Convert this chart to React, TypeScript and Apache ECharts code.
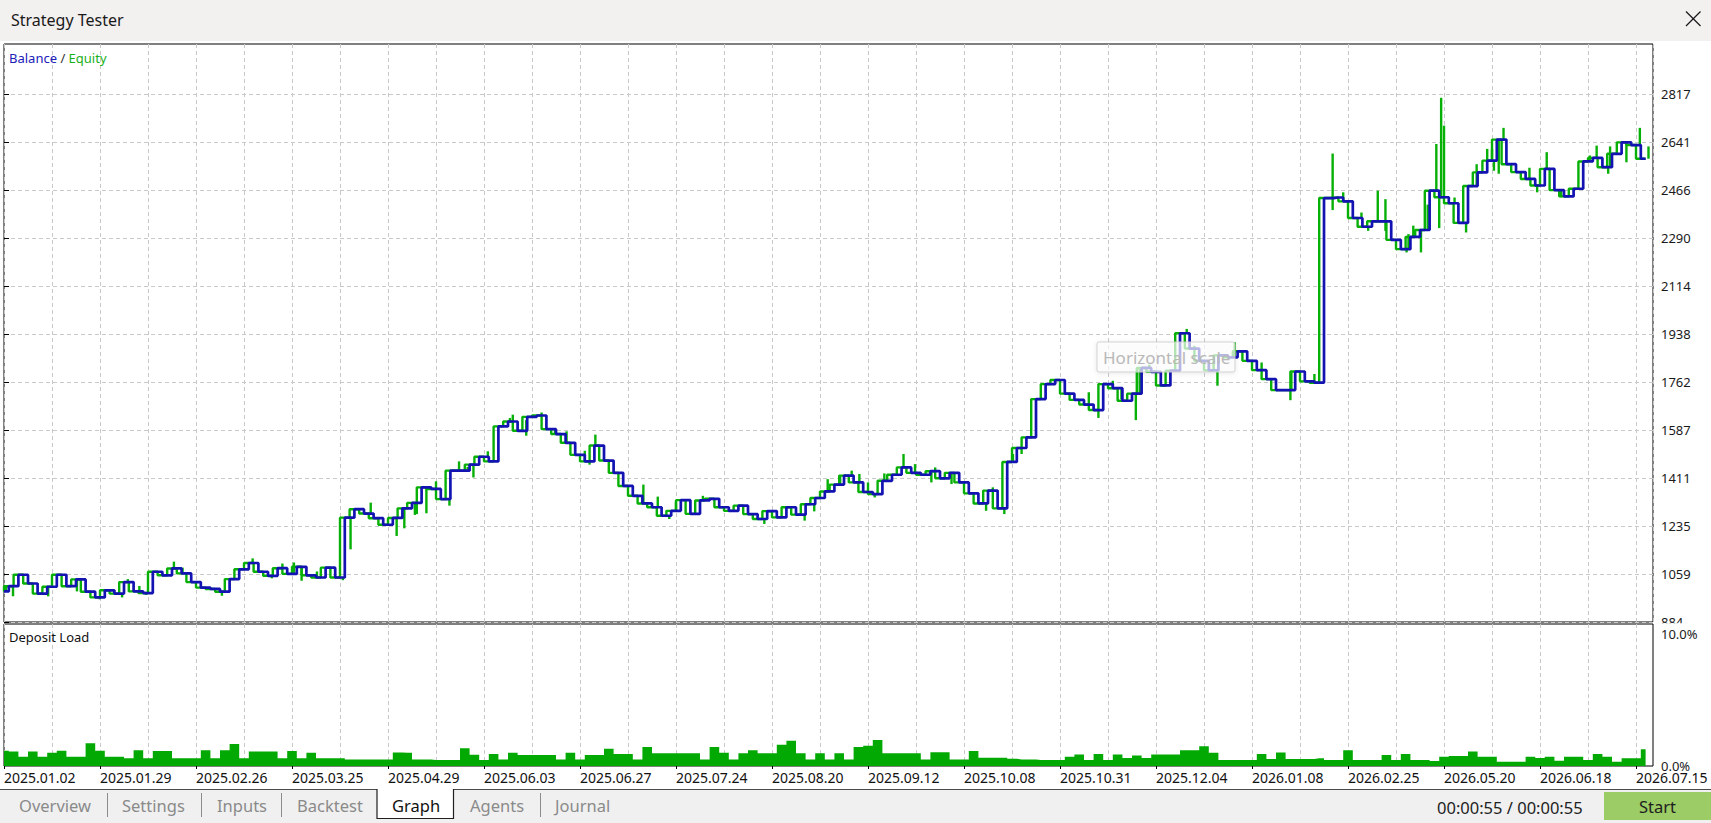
import React, { useEffect, useRef } from 'react';
import * as echarts from 'echarts';

const FONT = '"Noto Sans", "Open Sans", "DejaVu Sans", sans-serif';

// x axis: trade index (1 unit = one sample step), labels every 10 units
const xTickValues = [0, 10, 20, 30, 40, 50, 60, 70, 80, 90, 100, 110, 120, 130, 140, 150, 160, 170];
const xTickLabels = [
  '2025.01.02', '2025.01.29', '2025.02.26', '2025.03.25', '2025.04.29', '2025.06.03',
  '2025.06.27', '2025.07.24', '2025.08.20', '2025.09.12', '2025.10.08', '2025.10.31',
  '2025.12.04', '2026.01.08', '2026.02.25', '2026.05.20', '2026.06.18', '2026.07.15',
];
const xMax = 171.77;

// y axis ticks of the balance/equity panel
const yTickValues = [884, 1059.7, 1235.5, 1411.2, 1586.9, 1762.7, 1938.4, 2114.1, 2289.8, 2465.6, 2641.3, 2817];
const yTickLabels = ['884', '1059', '1235', '1411', '1587', '1762', '1938', '2114', '2290', '2466', '2641', '2817'];

// balance per trade index
const balance = [
  996, 1015, 1057, 1025, 988, 1013, 1057, 1015, 1040, 995,
  974, 1000, 988, 1030, 996, 990, 1068, 1055, 1080, 1062,
  1030, 1010, 1005, 995, 1041, 1077, 1100, 1068, 1053, 1081,
  1060, 1086, 1055, 1047, 1083, 1047, 1266, 1297, 1281, 1264,
  1240, 1265, 1300, 1320, 1377, 1371, 1334, 1438, 1438, 1460,
  1489, 1472, 1600, 1618, 1584, 1635, 1640, 1590, 1572, 1540,
  1496, 1472, 1530, 1475, 1430, 1382, 1346, 1318, 1304, 1273,
  1291, 1330, 1280, 1329, 1335, 1304, 1291, 1310, 1279, 1261,
  1290, 1267, 1304, 1277, 1315, 1338, 1362, 1387, 1420, 1395,
  1360, 1352, 1401, 1423, 1450, 1430, 1423, 1436, 1410, 1430,
  1395, 1355, 1318, 1365, 1300, 1470, 1521, 1560, 1700, 1755,
  1770, 1720, 1697, 1680, 1660, 1755, 1740, 1694, 1720, 1814,
  1800, 1750, 1804, 1941, 1885, 1840, 1805, 1860, 1853, 1875,
  1840, 1806, 1773, 1733, 1733, 1801, 1765, 1760, 2436, 2438,
  2424, 2363, 2331, 2351, 2351, 2283, 2249, 2294, 2319, 2463,
  2439, 2417, 2345, 2480, 2530, 2573, 2650, 2560, 2531, 2506,
  2482, 2543, 2465, 2442, 2470, 2570, 2583, 2549, 2598, 2640,
  2630, 2580,
];

// equity extremes (trade position, equity value)
const equityIdx = [
  0.2, 0.94, 4.6, 7.6, 9.97, 12.3, 12.9, 14.1, 14.8, 17.7, 18.6, 22.7, 25.9, 27.9, 29.0, 30.2, 31.0,
  32.6, 35.3, 36.1, 38.2, 40.9, 41.7, 42.8,
  43.0, 44.0, 45.0, 46.4, 47.4, 48.3, 48.9, 50.4, 52.7, 53.0, 54.4, 54.4, 56.0, 57.4, 58.6, 60.5,
  61.0, 61.6, 66.6, 68.1, 69.3, 70.0, 72.8, 79.2, 83.4, 84.4, 85.8,
  87.1, 88.3, 89.1, 90.0, 90.7, 91.7, 93.7, 94.9, 96.6, 97.0, 98.7, 102.3, 103.0, 104.2, 105.1, 106.0,
  113.0, 114.0, 115.5, 116.4, 117.9, 118.3, 119.3, 123.2, 124.0, 126.4, 128.2,
  131.0, 134.0, 134.1, 136.5, 138.4, 138.4, 139.5, 141.4, 142.1, 143.1, 143.9, 143.9, 146.1, 146.3,
  146.8, 147.6, 148.3, 149.2, 149.5, 149.7, 150.0, 151.1, 152.3, 153.4, 154.5, 155.0, 155.2, 155.7,
  156.2, 158.9, 159.7, 160.7, 162.2, 165.2, 165.9, 167.1, 167.3, 169.0, 170.4, 171.3,
];
const equityVal = [
  1013, 978, 978, 996, 967, 974, 1041, 1016, 983, 1105, 1083, 980, 1117, 1044, 1098, 1102, 1035,
  1069, 1037, 1150, 1321, 1199, 1227, 1276,
  1279, 1282, 1399, 1310, 1472, 1452, 1413, 1509, 1631, 1643, 1566, 1623, 1651, 1570, 1582, 1511,
  1460, 1570, 1387, 1343, 1261, 1322, 1346, 1243, 1255, 1289, 1407,
  1420, 1438, 1426, 1395, 1340, 1428, 1499, 1462, 1395, 1450, 1389, 1291, 1377, 1279, 1499, 1499,
  1725, 1631, 1767, 1700, 1623, 1810, 1826, 1957, 1895, 1749, 1908,
  1834, 1696, 1798, 1792, 2599, 2392, 2457, 2383, 2316, 2463, 2432, 2316, 2237, 2304,
  2335, 2237, 2412, 2634, 2326, 2803, 2701, 2438, 2310, 2560, 2616, 2615, 2536, 2525,
  2693, 2547, 2457, 2604, 2439, 2592, 2628, 2525, 2625, 2567, 2693, 2625,
];

// deposit load in % per trade index
const depositLoad = [
  1.16, 1.09, 0.7, 1.09, 0.7, 1.0, 1.16, 0.7, 0.7, 1.72,
  1.16, 0.7, 0.7, 0.58, 1.2, 0.58, 1.14, 1.14, 0.58, 0.58,
  0.58, 1.2, 0.58, 1.2, 1.67, 0.58, 1.09, 1.09, 1.09, 0.58,
  1.14, 0.58, 1.0, 0.58, 0.58, 0.58, 0.5, 0.5, 0.5, 0.5,
  0.5, 1.03, 1.0, 0.5, 0.5, 0.45, 0.45, 0.45, 1.34, 0.85,
  0.45, 0.9, 0.5, 1.0, 0.83, 0.83, 0.83, 0.83, 0.5, 1.0,
  0.5, 0.83, 0.83, 1.3, 0.9, 0.9, 0.5, 1.44, 0.96, 0.96,
  0.96, 0.96, 0.96, 0.5, 1.44, 1.0, 0.5, 0.96, 1.2, 0.96,
  0.96, 1.6, 1.92, 0.96, 0.5, 0.96, 0.5, 0.96, 0.5, 1.44,
  1.54, 1.97, 0.96, 0.96, 0.96, 0.96, 0.5, 1.04, 1.04, 0.5,
  0.5, 1.14, 0.63, 0.63, 0.63, 0.55, 0.5, 0.5, 0.45, 0.45,
  0.45, 0.7, 0.88, 0.45, 0.9, 0.45, 0.88, 0.6, 0.8, 0.6,
  0.88, 0.88, 0.88, 1.2, 1.2, 1.5, 1.0, 0.45, 0.45, 0.45,
  0.45, 0.9, 0.53, 1.03, 0.53, 0.53, 0.53, 0.58, 0.45, 0.45,
  1.2, 0.45, 0.45, 0.45, 0.83, 0.45, 0.9, 0.45, 0.45, 0.38,
  0.7, 0.76, 0.76, 1.09, 0.7, 0.7, 0.33, 0.33, 0.33, 0.7,
  0.6, 0.7, 0.4, 0.7, 0.7, 0.45, 0.9, 0.7, 0.33, 0.58,
  0.58, 1.26,
];
const depositTickValues = [0, 10];
const depositTickLabels = ['0.0%', '10.0%'];

const tabNames = ['Overview', 'Settings', 'Inputs', 'Backtest', 'Graph', 'Agents', 'Journal'];

function nearestLabel(values: number[], labels: string[], v: number) {
  let best = 0;
  for (let i = 1; i < values.length; i++) {
    if (Math.abs(values[i] - v) < Math.abs(values[best] - v)) best = i;
  }
  return Math.abs(values[best] - v) < 1 ? labels[best] : '';
}

const gridDash = { color: '#c9c9c9', width: 1, type: [4, 3] as number[] };
const EQUITY_GREEN = '#07b007';
const BALANCE_BLUE = '#1313b2';

export default function App() {
  const ref = useRef<HTMLDivElement>(null);

  useEffect(() => {
    if (!ref.current) return;
    const chart = echarts.init(ref.current, null, { renderer: 'svg' });

    const tabX = [19, 122, 217, 297, 392, 470, 555];
    const tabGraphics: any[] = tabNames.map((t, i) => ({
      type: 'text',
      x: tabX[i],
      y: 805,
      z: 60,
      style: {
        text: t,
        font: `16.5px ${FONT}`,
        fill: t === 'Graph' ? '#111111' : '#8a8a8a',
        verticalAlign: 'middle',
      },
    }));
    const sepX = [107.5, 201.5, 281.5, 540.5];
    const sepGraphics: any[] = sepX.map((x) => ({
      type: 'line',
      z: 60,
      shape: { x1: x, y1: 793, x2: x, y2: 817 },
      style: { stroke: '#8c8c8c', lineWidth: 1 },
    }));

    const option: any = {
      animation: false,
      backgroundColor: '#ffffff',
      grid: [
        { left: 4, right: 58, top: 44, height: 578, show: true, borderColor: '#000', borderWidth: 1, backgroundColor: 'transparent' },
        { left: 4, right: 58, top: 624, height: 142, show: true, borderColor: '#000', borderWidth: 1, backgroundColor: 'transparent' },
      ],
      xAxis: [
        {
          type: 'value', gridIndex: 0, min: 0, max: xMax, interval: 5,
          axisLine: { show: false }, axisTick: { show: false }, axisLabel: { show: false },
          splitLine: { show: true, lineStyle: gridDash },
        },
        {
          type: 'value', gridIndex: 1, min: 0, max: xMax, interval: 10,
          axisLine: { show: false },
          axisTick: { show: true, length: 3, customValues: xTickValues, lineStyle: { color: '#000' } },
          axisLabel: {
            show: true, customValues: xTickValues, align: 'left', margin: 4,
            fontFamily: FONT, fontSize: 14, color: '#111',
            formatter: (v: number) => nearestLabel(xTickValues, xTickLabels, v),
          },
          splitLine: { show: true, lineStyle: gridDash },
          minorTick: { show: false, splitNumber: 2 },
          minorSplitLine: { show: true, lineStyle: gridDash },
        },
      ],
      yAxis: [
        {
          type: 'value', gridIndex: 0, position: 'right', min: 884, max: 3000,
          axisLine: { show: false },
          axisTick: { show: true, length: 5, customValues: yTickValues, lineStyle: { color: '#000' } },
          axisLabel: {
            show: true, customValues: yTickValues, margin: 8,
            fontFamily: FONT, fontSize: 13, color: '#1a1a1a',
            formatter: (v: number) => nearestLabel(yTickValues, yTickLabels, v),
          },
          splitLine: { show: true, lineStyle: gridDash },
        },
        {
          type: 'value', gridIndex: 1, position: 'right', min: 0, max: 10.75, z: 120,
          axisLine: { show: false },
          axisTick: { show: false },
          axisLabel: {
            show: true, customValues: depositTickValues, margin: 8,
            fontFamily: FONT, fontSize: 13, color: '#1a1a1a',
            formatter: (v: number) => nearestLabel(depositTickValues, depositTickLabels, v),
          },
          splitLine: { show: false },
        },
      ],
      series: [
        {
          // equity moves ahead of the closed balance: drawn leading each step
          name: 'Equity',
          type: 'line',
          xAxisIndex: 0, yAxisIndex: 0,
          z: 2,
          step: 'start',
          showSymbol: false,
          data: balance.map((v, i) => [i, v]),
          lineStyle: { color: EQUITY_GREEN, width: 2.4 },
        },
        {
          name: 'Equity extremes',
          type: 'custom',
          xAxisIndex: 0, yAxisIndex: 0,
          z: 2,
          clip: true,
          encode: { x: 0, y: 1 },
          data: equityIdx.map((x, k) => [x, equityVal[k], balance[Math.round(x)]]),
          renderItem: (params: any, api: any) => {
            const x = api.value(0);
            const top = api.coord([x, api.value(1)]);
            const base = api.coord([x, api.value(2)]);
            return {
              type: 'rect',
              shape: { x: top[0] - 1.2, y: Math.min(top[1], base[1]), width: 2.4, height: Math.abs(top[1] - base[1]) },
              style: { fill: EQUITY_GREEN },
            };
          },
        },
        {
          name: 'Balance',
          type: 'line',
          xAxisIndex: 0, yAxisIndex: 0,
          z: 3,
          step: 'middle',
          showSymbol: false,
          data: balance.map((v, i) => [i, v]),
          lineStyle: { color: BALANCE_BLUE, width: 2.7 },
        },
        {
          name: 'Deposit Load',
          type: 'line',
          xAxisIndex: 1, yAxisIndex: 1,
          step: 'middle',
          showSymbol: false,
          data: depositLoad.map((v, i) => [i, v]),
          lineStyle: { width: 0 },
          areaStyle: { color: '#03a903', opacity: 1 },
        },
      ],
      graphic: [
        { type: 'rect', z: 50, shape: { x: 0, y: 0, width: 1711, height: 41 }, style: { fill: '#f3f0f0' } },
        { type: 'text', z: 51, x: 11, y: 19.5, style: { text: 'Strategy Tester', font: `16px ${FONT}`, fill: '#1a1a1a', verticalAlign: 'middle' } },
        { type: 'line', z: 51, shape: { x1: 1686, y1: 11.5, x2: 1700.5, y2: 26 }, style: { stroke: '#1a1a1a', lineWidth: 1.3 } },
        { type: 'line', z: 51, shape: { x1: 1700.5, y1: 11.5, x2: 1686, y2: 26 }, style: { stroke: '#1a1a1a', lineWidth: 1.3 } },
        {
          type: 'text', z: 51, x: 9, y: 58,
          style: {
            text: '{b|Balance} {s|/} {e|Equity}',
            font: `13px ${FONT}`,
            verticalAlign: 'middle',
            rich: {
              b: { fill: '#2020b8', font: `13px ${FONT}` },
              s: { fill: '#333333', font: `13px ${FONT}` },
              e: { fill: '#18b018', font: `13px ${FONT}` },
            },
          },
        },
        { type: 'text', z: 51, x: 9, y: 637, style: { text: 'Deposit Load', font: `13px ${FONT}`, fill: '#111', verticalAlign: 'middle' } },
        // cover the lower half of the bottom label of the upper panel
        { type: 'rect', z: 100, shape: { x: 1655, y: 623.3, width: 56, height: 5.2 }, style: { fill: '#ffffff' } },
        // hint box over the chart
        {
          type: 'rect', z: 100,
          shape: { x: 1097, y: 342, width: 138, height: 30, r: 2 },
          style: { fill: 'rgba(255,255,255,0.68)', stroke: 'rgba(205,205,205,0.9)', lineWidth: 1, shadowBlur: 5, shadowColor: 'rgba(0,0,0,0.12)', shadowOffsetY: 1 },
        },
        { type: 'text', z: 101, x: 1103, y: 357, style: { text: 'Horizontal scale', font: `17px ${FONT}`, fill: '#b8b8b8', verticalAlign: 'middle' } },
        // tab strip
        { type: 'rect', z: 55, shape: { x: 0, y: 789, width: 1711, height: 34 }, style: { fill: '#f0f0f0' } },
        { type: 'line', z: 56, shape: { x1: 0, y1: 789.5, x2: 1711, y2: 789.5 }, style: { stroke: '#4a4a4a', lineWidth: 1 } },
        { type: 'rect', z: 57, shape: { x: 377, y: 789, width: 76.5, height: 29.5 }, style: { fill: '#ffffff' } },
        { type: 'polyline', z: 58, shape: { points: [[377, 789], [377, 818.5], [453.5, 818.5], [453.5, 789]] }, style: { stroke: '#1f1f1f', lineWidth: 1.2, fill: 'none' } },
        ...sepGraphics,
        ...tabGraphics,
        { type: 'text', z: 60, x: 1437, y: 807, style: { text: '00:00:55 / 00:00:55', font: `16.5px ${FONT}`, fill: '#222222', verticalAlign: 'middle' } },
        { type: 'rect', z: 60, shape: { x: 1604, y: 792, width: 107, height: 28 }, style: { fill: '#9ccc65' } },
        { type: 'text', z: 61, x: 1657.5, y: 806, style: { text: 'Start', font: `16.5px ${FONT}`, fill: '#1e1e1e', align: 'center', verticalAlign: 'middle' } },
      ],
    };

    chart.setOption(option);
    return () => chart.dispose();
  }, []);

  return (
    <div
      ref={ref}
      style={{ position: 'absolute', left: 0, top: 0, width: 1711, height: 823, background: '#ffffff' }}
    />
  );
}
